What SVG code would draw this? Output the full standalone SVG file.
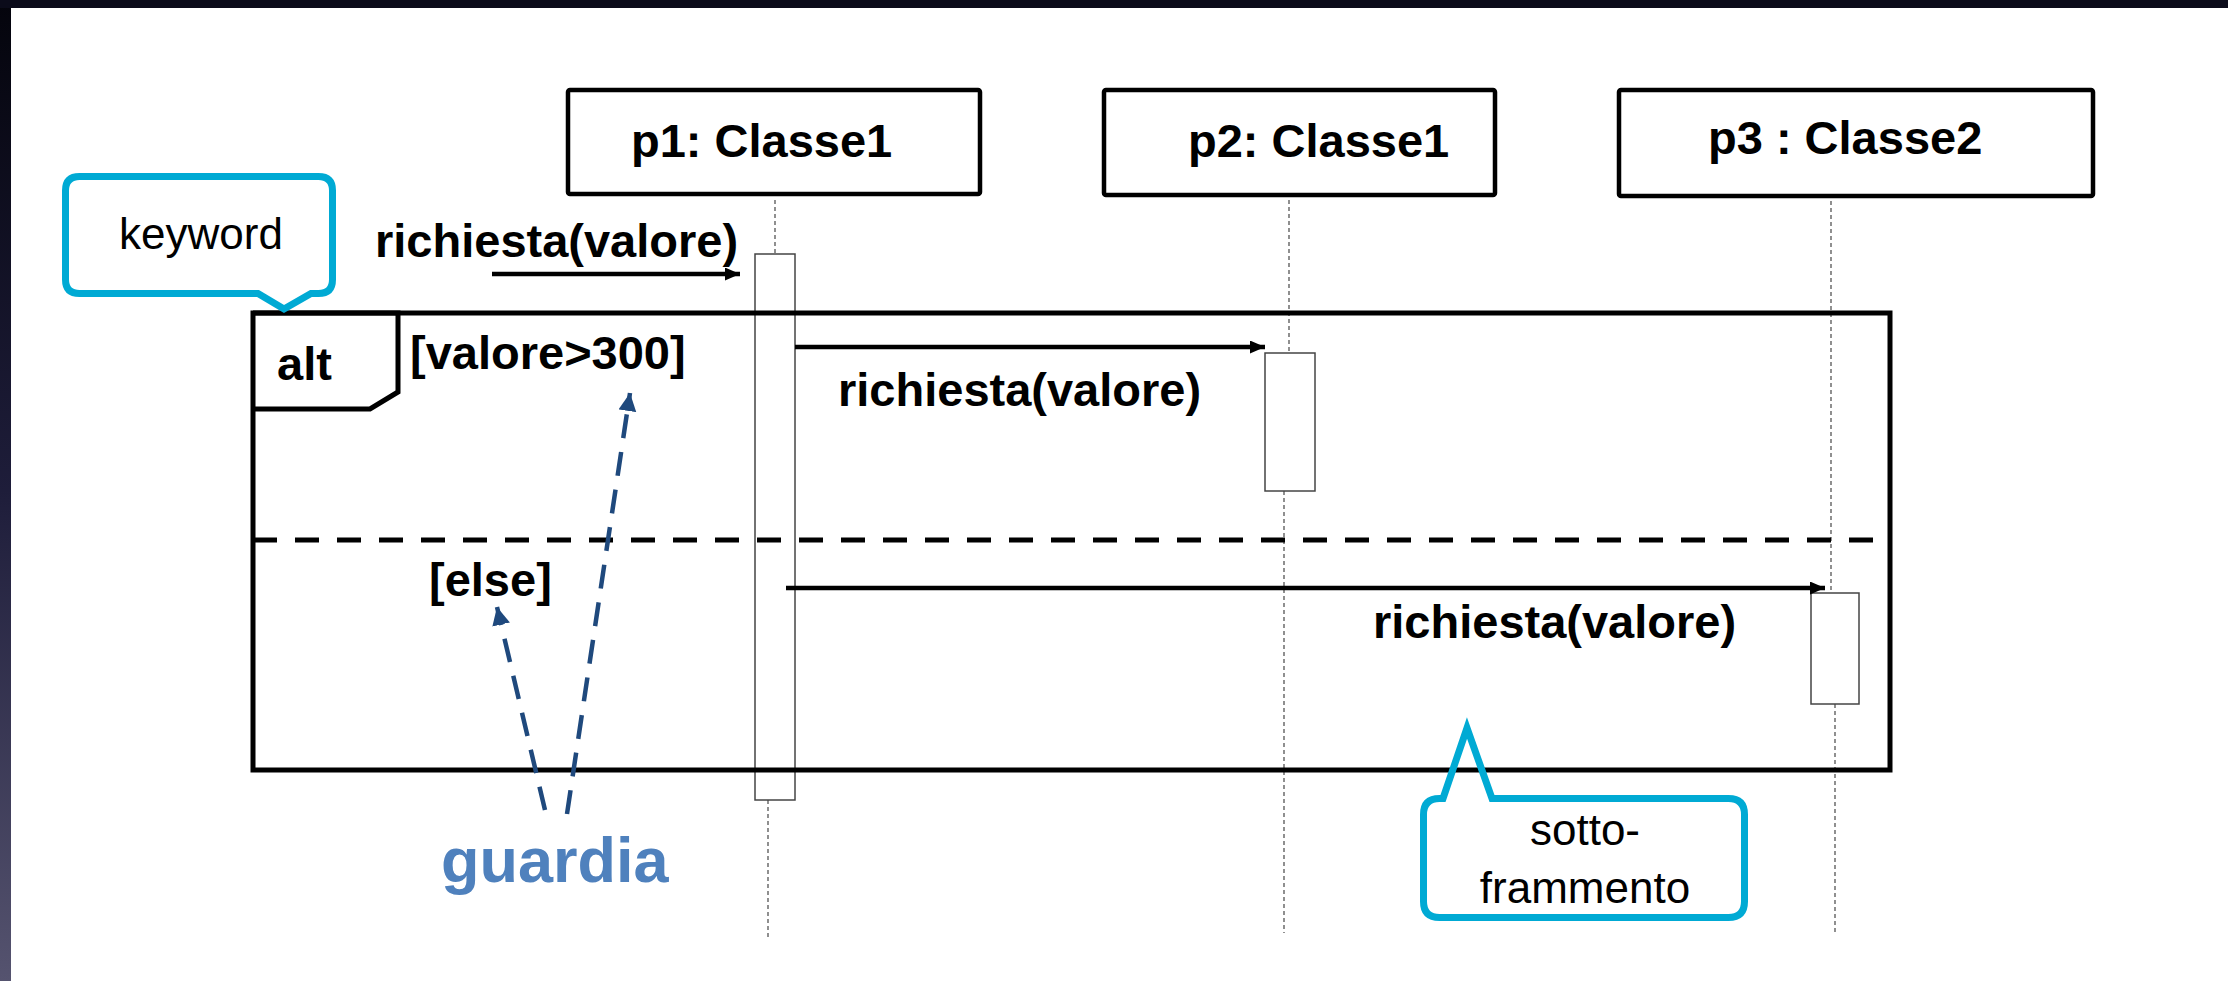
<svg xmlns="http://www.w3.org/2000/svg" width="2228" height="981" viewBox="0 0 2228 981">
  <defs>
    <linearGradient id="leftBand" x1="0" y1="0" x2="0" y2="1">
      <stop offset="0" stop-color="#04040c"/>
      <stop offset="0.5" stop-color="#1e1d3a"/>
      <stop offset="1" stop-color="#55536f"/>
    </linearGradient>
    <marker id="msgHead" markerUnits="userSpaceOnUse" markerWidth="16" markerHeight="14" refX="15" refY="6.5" orient="auto">
      <path d="M0,0 L15,6.5 L0,13 z" fill="#000"/>
    </marker>
    <marker id="guardHead" markerUnits="userSpaceOnUse" markerWidth="20" markerHeight="20" refX="18" refY="9" orient="auto">
      <path d="M0,0 L18,9 L0,18 z" fill="#1f497d"/>
    </marker>
    <style>
      .box { fill: #fff; stroke: #000; stroke-width: 4.5; }
      .title { font-family: "Liberation Sans", Arial, sans-serif; font-weight: bold; font-size: 47px; fill: #000; }
      .life { stroke: #555; stroke-width: 1.3; stroke-dasharray: 4 3; fill: none; }
      .act { fill: #fff; stroke: #444; stroke-width: 1.5; }
      .msg { stroke: #000; stroke-width: 4.5; fill: none; marker-end: url(#msgHead); }
      .lbl { font-family: "Liberation Sans", Arial, sans-serif; font-weight: bold; font-size: 47px; fill: #000; }
      .callout { fill: none; stroke: #00aad4; stroke-width: 7; stroke-linejoin: miter; }
      .ctext { font-family: "Liberation Sans", Arial, sans-serif; font-size: 44px; fill: #000; text-anchor: middle; }
      .guard { stroke: #1f497d; stroke-width: 4.5; stroke-dasharray: 24 14; fill: none; marker-end: url(#guardHead); }
    </style>
  </defs>

  <rect x="0" y="0" width="2228" height="981" fill="#fff"/>
  <rect x="0" y="0" width="11" height="981" fill="url(#leftBand)"/>
  <rect x="0" y="0" width="2228" height="8" fill="#0b0b1a"/>

  <g id="lifelines">
    <line class="life" x1="775" y1="200" x2="775" y2="254"/>
    <line class="life" x1="768" y1="800" x2="768" y2="940"/>
    <line class="life" x1="1289" y1="200" x2="1289" y2="352"/>
    <line class="life" x1="1284" y1="491" x2="1284" y2="933"/>
    <line class="life" x1="1831" y1="194" x2="1831" y2="593"/>
    <line class="life" x1="1835" y1="704" x2="1835" y2="933"/>
  </g>

  <g id="p1">
    <rect class="box" x="568" y="90" width="412" height="104" rx="2"/>
    <text class="title" x="631" y="157">p1: Classe1</text>
    <rect class="act" x="755" y="254" width="40" height="546"/>
  </g>

  <g id="p2">
    <rect class="box" x="1104" y="90" width="391" height="105" rx="2"/>
    <text class="title" x="1188" y="157">p2: Classe1</text>
    <rect class="act" x="1265" y="353" width="50" height="138"/>
  </g>

  <g id="p3">
    <rect class="box" x="1619" y="90" width="474" height="106" rx="2"/>
    <text class="title" x="1708" y="154">p3 : Classe2</text>
    <rect class="act" x="1811" y="593" width="48" height="111"/>
  </g>

  <g id="alt-frame">
    <rect x="253" y="313" width="1637" height="457" fill="none" stroke="#000" stroke-width="5"/>
    <path d="M253,313 H398 V392 L370,409 H253" fill="none" stroke="#000" stroke-width="5" stroke-linejoin="miter"/>
    <text class="lbl" x="277" y="380" font-size="51">alt</text>
    <line x1="253" y1="540" x2="1878" y2="540" stroke="#000" stroke-width="5" stroke-dasharray="24 18"/>
    <text class="lbl" x="410" y="369">[valore&gt;300]</text>
    <text class="lbl" x="429" y="596">[else]</text>
  </g>

  <g id="connectors">
    <line class="msg" x1="492" y1="274" x2="740" y2="274"/>
    <line class="msg" x1="795" y1="347" x2="1265" y2="347"/>
    <line class="msg" x1="786" y1="588" x2="1825" y2="588"/>
    <line class="guard" x1="567" y1="814" x2="630" y2="393"/>
    <line class="guard" x1="545" y1="810" x2="497" y2="607"/>
  </g>

  <g id="message-labels">
    <text class="lbl" x="375" y="257">richiesta(valore)</text>
    <text class="lbl" x="838" y="406">richiesta(valore)</text>
    <text class="lbl" x="1373" y="638">richiesta(valore)</text>
  </g>

  <g id="callout-keyword">
    <path class="callout" d="M79.5,176.5 H318.5 Q332.5,176.5 332.5,190.5 V279.5 Q332.5,293.5 318.5,293.5 H311 L284,309 L258,293.5 H79.5 Q65.5,293.5 65.5,279.5 V190.5 Q65.5,176.5 79.5,176.5 Z"/>
    <text class="ctext" x="201" y="249">keyword</text>
  </g>

  <g id="callout-sottoframmento">
    <path class="callout" d="M1443,798.5 L1467,728 L1492,798.5 H1728.5 Q1744.5,798.5 1744.5,814.5 V901.5 Q1744.5,917.5 1728.5,917.5 H1439.5 Q1423.5,917.5 1423.5,901.5 V814.5 Q1423.5,798.5 1439.5,798.5 Z"/>
    <text class="ctext" x="1585" y="845">sotto-</text>
    <text class="ctext" x="1585" y="903">frammento</text>
  </g>

  <g id="guardia">
    <text x="441" y="882" font-family="'Liberation Sans', Arial, sans-serif" font-weight="bold" font-size="63" fill="#4f81bd">guardia</text>
  </g>
</svg>
